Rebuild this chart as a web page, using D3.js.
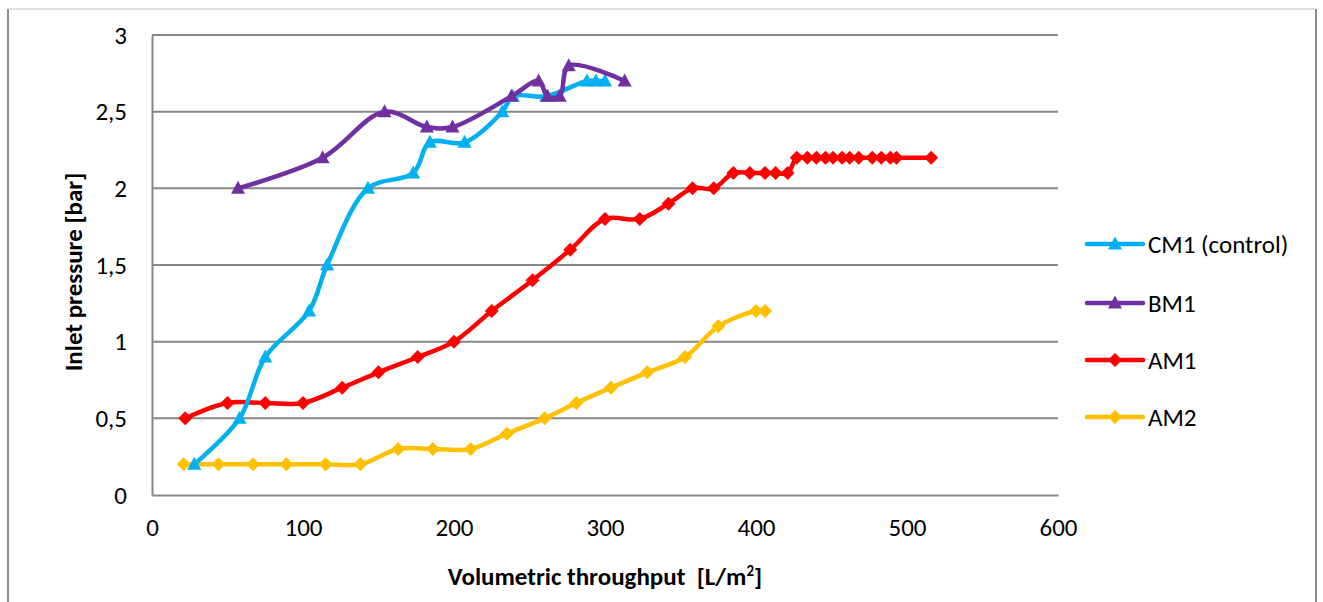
<!DOCTYPE html>
<html lang="en">
<head>
<meta charset="UTF-8" />
<title>Inlet pressure</title>
<script src="https://cdn.jsdelivr.net/npm/d3@7"></script>
<style>
	body { margin: 0; background: #fff; }
	text { font-family: Carlito, Lato, sans-serif; fill: #000; }
</style>
</head>
<body>
<svg id="vis" width="1323" height="602"></svg>
<script>
	// valeurs : [débit L/m², pression bar]
	const cm1 = [[28, 0.2], [58, 0.5], [75, 0.9], [104, 1.2], [116, 1.5], [143, 2.0], [173, 2.1],
		[184, 2.3], [207, 2.3], [232, 2.5], [239, 2.6], [261, 2.6], [288, 2.7], [294, 2.7], [300, 2.7]];
	const bm1 = [[57, 2.0], [113, 2.2], [154, 2.5], [182, 2.4], [199, 2.4], [238, 2.6], [256, 2.7],
		[262, 2.6], [270, 2.6], [276, 2.8], [313, 2.7]];
	const am1 = [[22, 0.5], [50, 0.6], [75, 0.6], [100, 0.6], [126, 0.7], [150, 0.8], [176, 0.9],
		[200, 1.0], [225, 1.2], [252, 1.4], [277, 1.6], [300, 1.8], [323, 1.8], [342, 1.9], [358, 2.0],
		[372, 2.0], [385, 2.1], [396, 2.1], [406, 2.1], [413, 2.1], [421, 2.1], [427, 2.2], [434, 2.2],
		[440, 2.2], [446, 2.2], [451, 2.2], [457, 2.2], [462, 2.2], [468, 2.2], [477, 2.2], [483, 2.2],
		[489, 2.2], [493, 2.2], [516, 2.2]];
	const am2 = [[21, 0.2], [44, 0.2], [67, 0.2], [89, 0.2], [115, 0.2], [138, 0.2], [163, 0.3],
		[186, 0.3], [211, 0.3], [235, 0.4], [260, 0.5], [281, 0.6], [304, 0.7], [328, 0.8], [353, 0.9],
		[375, 1.1], [400, 1.2], [406, 1.2]];

	const seriesNames = ["CM1 (control)", "BM1", "AM1", "AM2"];
	const seriesColors = ["#00B0F0", "#7030A0", "#FF0000", "#FFC000"];
	const seriesMarkers = ["triangle", "triangle", "diamond", "diamond"];
	const seriesData = [cm1, bm1, am1, am2];

	const xTicks = [0, 100, 200, 300, 400, 500, 600];
	const yTicks = [0, 0.5, 1, 1.5, 2, 2.5, 3];

	let svg = d3.select("#vis");

	// cadre extérieur
	svg.append("line").attr("x1", 8).attr("x2", 8).attr("y1", 9).attr("y2", 602)
		.attr("stroke", "#8c8c8c").attr("stroke-width", 2);
	svg.append("line").attr("x1", 1316).attr("x2", 1316).attr("y1", 9).attr("y2", 602)
		.attr("stroke", "#8c8c8c").attr("stroke-width", 2);
	svg.append("line").attr("x1", 8).attr("x2", 1316).attr("y1", 9).attr("y2", 9)
		.attr("stroke", "#bdbdbd").attr("stroke-width", 1);

	// Echelles
	let scaleX = d3.scaleLinear().domain([0, 600]).range([152, 1058]);
	let scaleY = d3.scaleLinear().domain([0, 3]).range([495, 35]);

	// grille horizontale
	let gGrid = svg.append("g");
	gGrid.selectAll("line").data(yTicks.filter(d => d > 0)).join("line")
		.attr("x1", scaleX(0)).attr("x2", scaleX(600))
		.attr("y1", d => scaleY(d)).attr("y2", d => scaleY(d))
		.attr("stroke", "#878787").attr("stroke-width", 2);

	// Axe Y
	let yAxis = d3.axisLeft(scaleY).tickValues(yTicks).tickSize(0).tickPadding(25)
		.tickFormat(d => String(d).replace(".", ","));
	let gy = svg.append("g").attr("transform", "translate(152,0)").call(yAxis);
	gy.select(".domain").attr("stroke", "#878787").attr("stroke-width", 2);
	gy.selectAll("text").style("font-size", "25px");

	// Axe X
	let xAxis = d3.axisBottom(scaleX).tickValues(xTicks).tickSize(0).tickPadding(23);
	let gx = svg.append("g").attr("transform", "translate(0,495)").call(xAxis);
	gx.select(".domain").attr("stroke", "#878787").attr("stroke-width", 2);
	gx.selectAll("text").style("font-size", "25px");

	// titres des axes
	let xTitle = svg.append("text").attr("x", 605).attr("y", 585)
		.attr("text-anchor", "middle").style("font-size", "25px").style("font-weight", "bold");
	xTitle.append("tspan").text("Volumetric throughput \u00A0[L/m");
	xTitle.append("tspan").text("2").style("font-size", "15px").attr("dy", -9);
	xTitle.append("tspan").text("]").attr("dy", 9);

	svg.append("text").attr("transform", "translate(82,272) rotate(-90)")
		.attr("text-anchor", "middle").style("font-size", "25px").style("font-weight", "bold")
		.text("Inlet pressure [bar]");

	// symboles
	function markerPath(type) {
		if (type == "triangle") {
			return d3.line()([[-7, 5.5], [0, -7.5], [7, 5.5]]) + "Z";
		}
		return d3.line()([[0, -7], [7, 0], [0, 7], [-7, 0]]) + "Z";
	}

	let line = d3.line()
		.x(d => scaleX(d[0]))
		.y(d => scaleY(d[1]))
		.curve(d3.curveCatmullRom.alpha(0.5));

	// ordre de dessin : AM2, AM1, CM1, BM1
	let drawOrder = [3, 2, 0, 1];
	for (let k = 0; k < drawOrder.length; k++) {
		let i = drawOrder[k];
		let g = svg.append("g");
		g.append("path").attr("d", line(seriesData[i]))
			.attr("fill", "none").attr("stroke", seriesColors[i]).attr("stroke-width", 4.5)
			.attr("stroke-linejoin", "round");
		g.selectAll("path.m").data(seriesData[i]).join("path").attr("class", "m")
			.attr("d", markerPath(seriesMarkers[i]))
			.attr("fill", seriesColors[i])
			.attr("transform", d => "translate(" + scaleX(d[0]) + "," + scaleY(d[1]) + ")");
	}

	// Légende
	let legendY = [244, 303, 360, 417];
	for (let i = 0; i < seriesNames.length; i++) {
		let g = svg.append("g").attr("transform", "translate(0," + legendY[i] + ")");
		g.append("line").attr("x1", 1087).attr("x2", 1143).attr("y1", 0).attr("y2", 0)
			.attr("stroke", seriesColors[i]).attr("stroke-width", 4.5).attr("stroke-linecap", "round");
		g.append("path").attr("d", markerPath(seriesMarkers[i]))
			.attr("fill", seriesColors[i]).attr("transform", "translate(1115,0)");
		g.append("text").attr("x", 1148).attr("y", 0).attr("dy", "0.35em")
			.style("font-size", "25px").text(seriesNames[i]);
	}
</script>
</body>
</html>
